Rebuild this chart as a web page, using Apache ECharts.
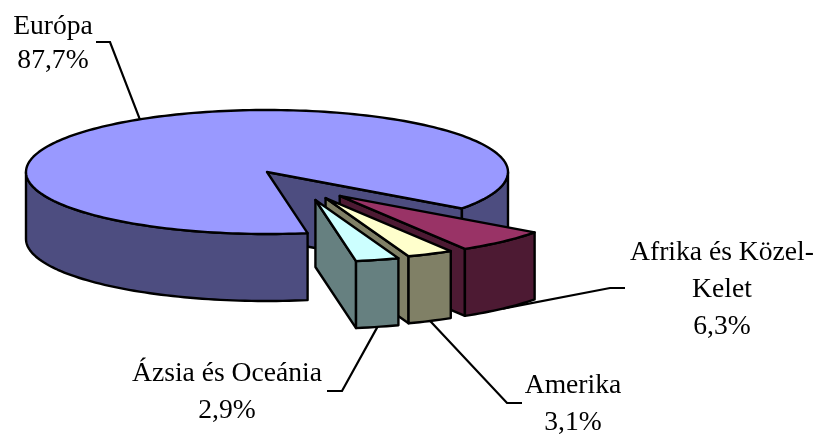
<!DOCTYPE html>
<html>
<head>
<meta charset="utf-8">
<style>html,body{margin:0;padding:0;background:#fff}#chart{width:816px;height:434px}</style>
<script src="https://cdn.jsdelivr.net/npm/echarts@6/dist/echarts.min.js"></script>
</head>
<body>
<div id="chart"></div>
<script>
// Data
var categories = ['Európa', 'Afrika és Közel-\nKelet', 'Amerika', 'Ázsia és Oceánia'];
var shares = [87.7, 6.3, 3.1, 2.9];

// Styles
var topColors = ['#9999ff', '#993366', '#ffffcc', '#ccffff'];
var sideColors = ['#4d4d80', '#4d1a33', '#808066', '#668080'];

// Layout of the 3D pie
var centerX = 267, centerY = 172, radiusX = 241, radiusY = 62, depth = 67;
var startAngle = 80.3;
var explodeRadius = [0, 0.49, 0.486, 0.494];
var explodeAngle = [0, 52, 60, 66];
// leader elbow and label box, as [elbowX, elbowY, tailX, labelX, labelY]
var labelLayout = [
  [110, 42, 96, 53, 44],
  [610, 288, 625, 722, 290],
  [507, 403, 522, 573, 404],
  [342, 391, 327, 227, 392]
];

var FONT = '"Liberation Serif", "Times New Roman", serif';
var total = shares.reduce(function (a, b) { return a + b; }, 0);

function rad(d) { return d * Math.PI / 180; }

function renderSlice(params, api) {
  var i = params.dataIndex;
  var value = api.value(0);
  var before = 0;
  for (var k = 0; k < i; k++) before += shares[k];
  var a0 = startAngle + before / total * 360;
  var a1 = a0 + value / total * 360;
  var ex = explodeRadius[i] * Math.cos(rad(explodeAngle[i])) * radiusX;
  var ey = explodeRadius[i] * Math.sin(rad(explodeAngle[i])) * radiusY;
  var cx = centerX + ex, cy = centerY + ey;
  function rim(a, d) {
    return [cx + radiusX * Math.cos(rad(a)), cy + radiusY * Math.sin(rad(a)) + (d || 0)];
  }
  function arc(from, to, d) {
    var n = Math.max(2, Math.ceil(Math.abs(to - from) / 1.5));
    var pts = [];
    for (var j = 0; j <= n; j++) pts.push(rim(from + (to - from) * j / n, d));
    return pts;
  }
  var children = [];
  function poly(points, fill) {
    children.push({
      type: 'polygon',
      shape: { points: points },
      style: { fill: fill, stroke: '#000', lineWidth: 2.4, lineJoin: 'round' }
    });
  }

  // leader line and label
  var mid = (a0 + a1) / 2;
  var anchor = i === 0 ? rim(mid, 0) : rim(mid, depth);
  var L = labelLayout[i];
  children.push({
    type: 'polyline',
    shape: { points: [anchor, [L[0], L[1]], [L[2], L[1]]] },
    style: { stroke: '#000', lineWidth: 2.2, fill: null }
  });
  children.push({
    type: 'text',
    style: {
      x: L[3], y: L[4],
      text: categories[i] + '\n' + String(value).replace('.', ',') + '%',
      font: '27.6px ' + FONT,
      lineHeight: i === 0 ? 34 : 37,
      fill: '#000',
      align: 'center',
      verticalAlign: 'middle'
    }
  });

  // cut face at the end angle
  var e0 = rim(a1, 0), e1 = rim(a1, depth);
  poly([[cx, cy], e0, e1, [cx, cy + depth]], sideColors[i]);

  // outer walls on the front half of the ellipse
  for (var m = 0; m <= 1; m++) {
    var lo = Math.max(a0, m * 360), hi = Math.min(a1, m * 360 + 180);
    if (hi > lo) {
      poly(arc(lo, hi, 0).concat(arc(hi, lo, depth)), sideColors[i]);
    }
  }

  // top face
  poly([[cx, cy]].concat(arc(a0, a1, 0)), topColors[i]);

  return { type: 'group', children: children };
}

var chart = echarts.init(document.getElementById('chart'), null, { renderer: 'canvas' });
chart.setOption({
  animation: false,
  backgroundColor: '#ffffff',
  series: [{
    type: 'custom',
    coordinateSystem: 'none',
    renderItem: renderSlice,
    data: shares.map(function (v, i) { return { name: categories[i], value: [v] }; }),
    encode: { value: 0 },
    silent: true
  }]
});
</script>
</body>
</html>
